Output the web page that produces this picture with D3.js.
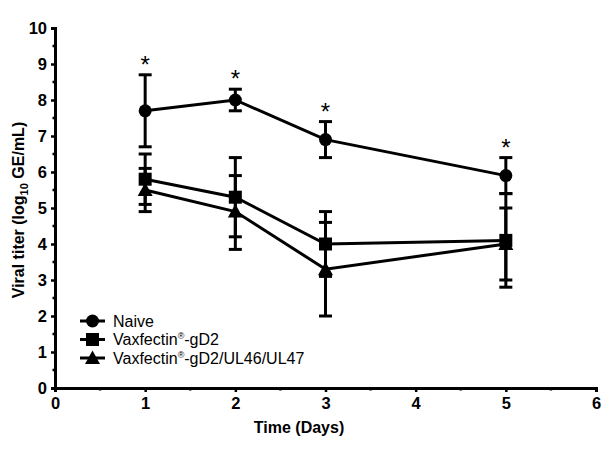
<!DOCTYPE html>
<html><head><meta charset="utf-8">
<script src="https://cdn.jsdelivr.net/npm/d3@7"></script>
<style>body{margin:0;background:#fff;} svg{display:block;} text{font-family:"Liberation Sans",Arial,sans-serif;}</style>
</head><body><svg id="c" width="614" height="460"></svg>
<script>
const days = [1, 2, 3, 5];
const naive = [7.7, 8.0, 6.9, 5.9];
const naiveLo = [6.7, 7.7, 6.4, 5.4];
const naiveHi = [8.7, 8.3, 7.4, 6.4];
const gd2 = [5.8, 5.3, 4.0, 4.1];
const gd2Lo = [5.1, 4.2, 3.1, 2.8];
const gd2Hi = [6.5, 6.4, 4.9, 5.4];
const ul = [5.5, 4.9, 3.3, 4.0];
const ulLo = [4.9, 3.85, 2.0, 3.0];
const ulHi = [6.1, 5.9, 4.6, 5.0];
const starDays = [1, 2, 3, 5];
const seriesNames = ["Naive", "Vaxfectin\u00AE-gD2", "Vaxfectin\u00AE-gD2/UL46/UL47"];
const xTicks = [0,1,2,3,4,5,6];
const yTicks = [0,1,2,3,4,5,6,7,8,9,10];

const svg = d3.select("#c");
const x = d3.scaleLinear().domain([0,6]).range([55,596]);
const y = d3.scaleLinear().domain([0,10]).range([388,28]);

const series = [
  {name: seriesNames[0], v: naive, lo: naiveLo, hi: naiveHi, shape: "circle"},
  {name: seriesNames[1], v: gd2, lo: gd2Lo, hi: gd2Hi, shape: "square"},
  {name: seriesNames[2], v: ul, lo: ulLo, hi: ulHi, shape: "triangle"}
];

function marker(g, shape, cx, cy) {
  if (shape === "circle") g.append("circle").attr("cx", cx).attr("cy", cy).attr("r", 6.5).attr("fill", "#000");
  else if (shape === "square") g.append("rect").attr("x", cx-6.5).attr("y", cy-6.5).attr("width", 13).attr("height", 13).attr("fill", "#000");
  else g.append("path").attr("d", `M${cx},${cy-7.5}L${cx+7.5},${cy+6}L${cx-7.5},${cy+6}Z`).attr("fill", "#000");
}

// axes
const yAxis = d3.axisLeft(y).tickValues(yTicks).tickSize(4).tickPadding(4).tickFormat(d3.format("d"));
const gy = svg.append("g").attr("transform", `translate(${x(0)},0)`).call(yAxis);
const xAxis = d3.axisBottom(x).tickValues(xTicks).tickSize(4).tickPadding(5).tickFormat(d3.format("d"));
const gx = svg.append("g").attr("transform", `translate(0,${y(0)})`).call(xAxis);
[gx, gy].forEach(g => {
  g.select(".domain").attr("stroke", "#000").attr("stroke-width", 3);
  g.selectAll(".tick line").attr("stroke", "#000").attr("stroke-width", 2.5);
  g.selectAll(".tick text").attr("fill", "#000").style("font-size", "16.5px").style("font-weight", "bold");
});
// minor ticks
const minorY = d3.range(0.5, 10, 1);
svg.append("g").selectAll("line").data(minorY).join("line")
  .attr("x1", x(0)-2.5).attr("x2", x(0)).attr("y1", d => y(d)).attr("y2", d => y(d))
  .attr("stroke", "#000").attr("stroke-width", 2.5);
const minorX = d3.range(0.5, 6, 1);
svg.append("g").selectAll("line").data(minorX).join("line")
  .attr("x1", d => x(d)).attr("x2", d => x(d)).attr("y1", y(0)).attr("y2", y(0)+2.5)
  .attr("stroke", "#000").attr("stroke-width", 2.5);

// axis titles
svg.append("text").attr("x", 299).attr("y", 433).attr("text-anchor", "middle")
  .style("font-size", "16px").style("font-weight", "bold").text("Time (Days)");
const yt = svg.append("text").attr("transform", "translate(24,210) rotate(-90)").attr("text-anchor", "middle")
  .style("font-size", "16px").style("font-weight", "bold");
yt.append("tspan").text("Viral titer (log");
yt.append("tspan").attr("dy", 4).style("font-size", "11px").text("10");
yt.append("tspan").attr("dy", -4).text(" GE/mL)");

// lines
const line = d3.line().x((d,i) => x(days[i])).y(d => y(d));
series.forEach(s => {
  svg.append("path").datum(s.v).attr("d", line).attr("fill", "none").attr("stroke", "#000").attr("stroke-width", 3);
});
// error bars
series.forEach(s => {
  const g = svg.append("g").attr("stroke", "#000").attr("stroke-width", 3);
  days.forEach((d, i) => {
    g.append("line").attr("x1", x(d)).attr("x2", x(d)).attr("y1", y(s.lo[i])).attr("y2", y(s.hi[i]));
    [s.lo[i], s.hi[i]].forEach(v => g.append("line").attr("x1", x(d)-6.5).attr("x2", x(d)+6.5).attr("y1", y(v)).attr("y2", y(v)));
  });
});
// markers
series.forEach(s => {
  const g = svg.append("g");
  days.forEach((d, i) => marker(g, s.shape, x(d), y(s.v[i])));
});
// stars
svg.append("g").selectAll("text").data(starDays).join("text")
  .attr("x", d => x(d)).attr("y", d => y(naiveHi[days.indexOf(d)]) - 2)
  .attr("text-anchor", "middle").style("font-size", "24px").text("*");

// legend
const legY = [321, 339.5, 358];
series.forEach((s, i) => {
  const g = svg.append("g");
  g.append("line").attr("x1", 80).attr("x2", 105).attr("y1", legY[i]).attr("y2", legY[i]).attr("stroke", "#000").attr("stroke-width", 3);
  marker(g, s.shape, 92.5, legY[i]);
  const t = g.append("text").attr("x", 113).attr("y", legY[i]).attr("dy", "0.35em").style("font-size", "16px");
  const parts = s.name.split("\u00AE");
  t.append("tspan").text(parts[0]);
  if (parts.length > 1) {
    t.append("tspan").attr("dy", -6).style("font-size", "9px").text("\u00AE");
    t.append("tspan").attr("dy", 6).text(parts[1]);
  }
});
</script></body></html>
